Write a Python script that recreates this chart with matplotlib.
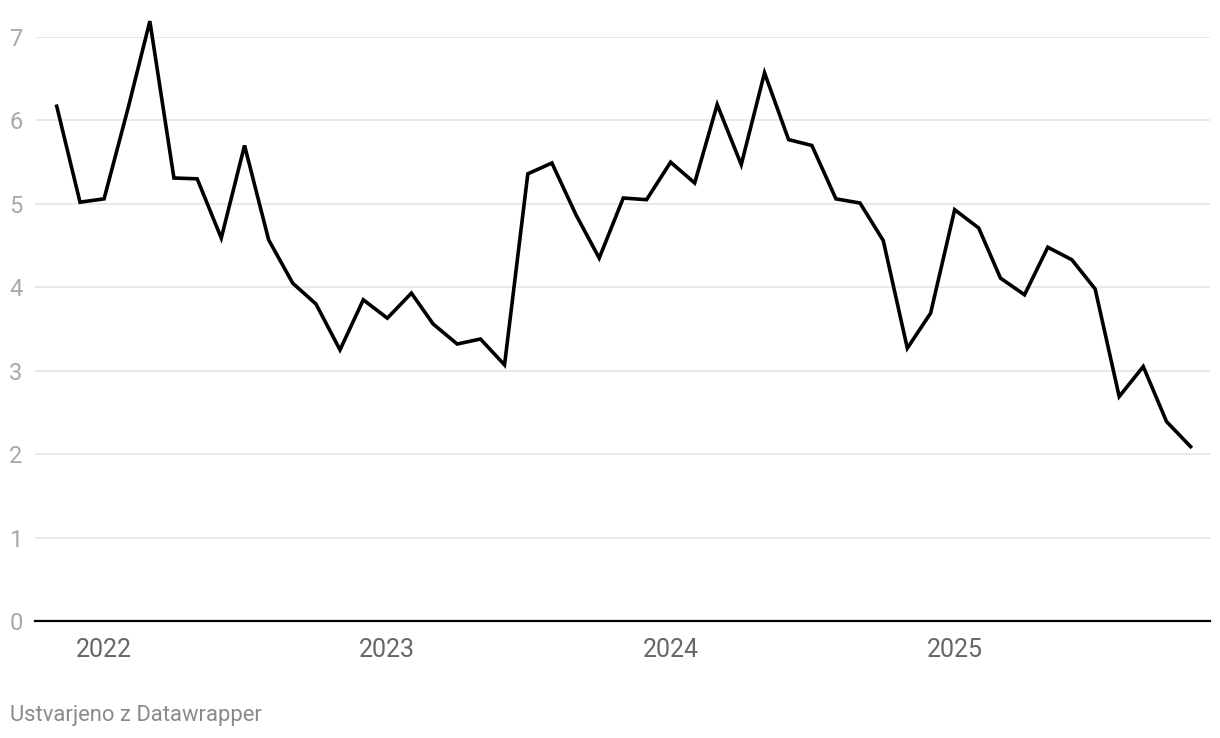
import pandas as pd
import matplotlib.pyplot as plt

plt.rcParams['font.family'] = ['Roboto', 'DejaVu Sans']

# monthly values, Nov 2021 - Nov 2025
months = pd.date_range('2021-11-01', periods=49, freq='MS')
values = [
    6.17, 5.02, 5.06, 6.15, 7.19, 5.31, 5.30, 4.59, 5.70, 4.57, 4.05, 3.80,
    3.25, 3.85, 3.63, 3.93, 3.56, 3.32, 3.38, 3.07, 5.36, 5.49, 4.87, 4.35,
    5.07, 5.05, 5.50, 5.25, 6.19, 5.47, 6.57, 5.77, 5.70, 5.06, 5.01, 4.56,
    3.27, 3.69, 4.93, 4.71, 4.11, 3.91, 4.48, 4.33, 3.98, 2.69, 3.05, 2.39,
    2.09,
]
year_ticks = ['2022-01-01', '2023-01-01', '2024-01-01', '2025-01-01']
year_labels = ['2022', '2023', '2024', '2025']
y_ticks = [0, 1, 2, 3, 4, 5, 6, 7]

fig = plt.figure(figsize=(12.2, 7.38), dpi=100)
ax = fig.add_axes([35 / 1220, 1 - 621 / 738, 1175 / 1220, (621 - 37) / 738])

ax.plot(months, values, color='black', lw=2.6, clip_on=False, zorder=3,
        solid_joinstyle='miter')

ax.set_ylim(0, 7)
ax.set_xlim(pd.Timestamp('2021-10-04'), pd.Timestamp('2025-11-26'))

ax.set_yticks(y_ticks)
ax.set_yticklabels([str(t) for t in y_ticks], ha='left')
ax.tick_params(axis='y', length=0, pad=18.5, labelsize=17, labelcolor='#a8a8a8')
ax.grid(axis='y', color='#e3e3e3', lw=1.1)
ax.set_axisbelow(True)

ax.set_xticks(pd.to_datetime(year_ticks))
ax.set_xticklabels(year_labels)
ax.tick_params(axis='x', length=0, pad=12, labelsize=18, labelcolor='#666666')

for s in ['top', 'right', 'left']:
    ax.spines[s].set_visible(False)
ax.spines['bottom'].set_color('black')
ax.spines['bottom'].set_linewidth(1.6)
ax.spines['bottom'].set_zorder(4)

fig.text(10 / 1220, 1 - 715 / 738, 'Ustvarjeno z Datawrapper', fontsize=15.8,
         color='#8a8a8a', va='center', ha='left')

fig.savefig('out.png', dpi=100)
